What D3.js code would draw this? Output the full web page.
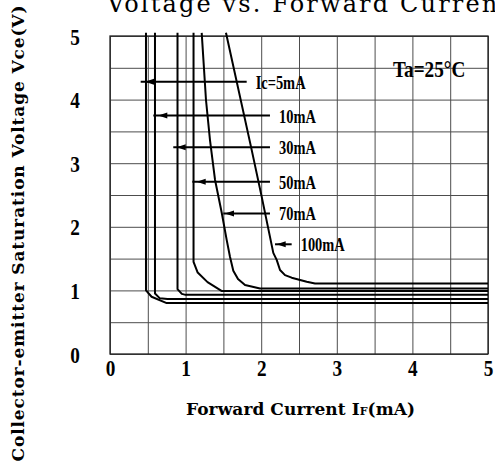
<!DOCTYPE html>
<html>
<head>
<meta charset="utf-8">
<script src="https://cdn.jsdelivr.net/npm/d3@7"></script>
<style>
  body { margin: 0; background: #fff; }
  svg { display: block; }
</style>
</head>
<body>
<svg id="chart" width="495" height="468"></svg>
<script>
// curve data: forward current If (mA) vs Vce (V)
const seriesNames = ['Ic=5mA', '10mA', '30mA', '50mA', '70mA', '100mA'];

const if5 = [0.476, 0.476, 0.55, 0.75, 5];
const vce5 = [5.05, 1.0, 0.90, 0.80, 0.80];

const if10 = [0.595, 0.595, 0.66, 0.76, 5];
const vce10 = [5.05, 0.95, 0.875, 0.865, 0.865];

const if30 = [0.893, 0.893, 0.95, 1.0, 5];
const vce30 = [5.05, 1.02, 0.945, 0.93, 0.93];

const if50 = [1.105, 1.105, 1.16, 1.29, 1.48, 5];
const vce50 = [5.05, 1.45, 1.28, 1.13, 0.99, 0.99];

const if70 = [1.213, 1.270, 1.323, 1.389, 1.478, 1.544, 1.587, 1.631, 1.693, 1.786, 1.984, 5];
const vce70 = [5.05, 3.99, 3.36, 2.74, 2.22, 1.79, 1.53, 1.31, 1.18, 1.085, 1.03, 1.03];

const if100 = [1.534, 1.874, 2.007, 2.16, 2.205, 2.249, 2.315, 2.403, 2.602, 2.712, 5];
const vce100 = [5.05, 3.21, 2.47, 1.59, 1.48, 1.32, 1.24, 1.20, 1.137, 1.11, 1.11];

// leader arrows (data units)
const arrowY = [4.28, 3.75, 3.25, 2.71, 2.21, 1.725];
const arrowTip = [0.463, 0.639, 0.882, 1.147, 1.521, 2.205];
const arrowTail = [0.406, 0.573, 0.837, 1.089, 1.499, 2.183];
const arrowEnd = [1.808, 2.116, 2.116, 2.116, 2.116, 2.403];

const xTicks = [0, 1, 2, 3, 4, 5];
const yTicks = [0, 1, 2, 3, 4, 5];
const gridVals = [0, 0.5, 1, 1.5, 2, 2.5, 3, 3.5, 4, 4.5, 5];

const svg = d3.select('#chart');

const plotLeft = 110, plotRight = 488, plotTop = 36, plotBottom = 354;
const x = d3.scaleLinear().domain([0, 5]).range([plotLeft, plotRight]);
const y = d3.scaleLinear().domain([0, 5]).range([plotBottom, plotTop]);

const serif = "'Liberation Serif', 'Times New Roman', serif";
const wideSerif = "'DejaVu Serif', 'Liberation Serif', serif";

// GRID
svg.append('g')
  .attr('transform', `translate(0,${plotBottom})`)
  .call(d3.axisBottom(x).tickValues(gridVals).tickSize(-(plotBottom - plotTop)).tickFormat(''))
  .call(g => g.select('.domain').remove())
  .selectAll('line').attr('stroke', '#4d4d4d').attr('stroke-width', 1);

svg.append('g')
  .attr('transform', `translate(${plotLeft},0)`)
  .call(d3.axisLeft(y).tickValues(gridVals).tickSize(-(plotRight - plotLeft)).tickFormat(''))
  .call(g => g.select('.domain').remove())
  .selectAll('line').attr('stroke', '#4d4d4d').attr('stroke-width', 1);

svg.append('rect')
  .attr('x', plotLeft).attr('y', plotTop)
  .attr('width', plotRight - plotLeft).attr('height', plotBottom - plotTop)
  .attr('fill', 'none').attr('stroke', '#222').attr('stroke-width', 1.3);

// TICK LABELS
const xAxis = svg.append('g')
  .attr('transform', `translate(0,${plotBottom})`)
  .call(d3.axisBottom(x).tickValues(xTicks).tickSize(0).tickFormat(d3.format('d')));
xAxis.select('.domain').remove();
xAxis.selectAll('text')
  .attr('y', 0).attr('dy', null)
  .attr('transform', 'translate(0,22) scale(0.8,1)')
  .style('font-family', serif).style('font-size', '24px').style('font-weight', 'bold')
  .attr('fill', '#000');

const yAxis = svg.append('g')
  .attr('transform', `translate(${plotLeft},0)`)
  .call(d3.axisLeft(y).tickValues(yTicks).tickSize(0).tickFormat(d3.format('d')));
yAxis.select('.domain').remove();
yAxis.selectAll('text')
  .attr('x', 0).attr('dy', null)
  .attr('text-anchor', 'middle')
  .attr('transform', 'translate(-35,8) scale(0.8,1)')
  .style('font-family', serif).style('font-size', '24px').style('font-weight', 'bold')
  .attr('fill', '#000');

// CURVES
const curves = [
  d3.zip(if5, vce5), d3.zip(if10, vce10), d3.zip(if30, vce30),
  d3.zip(if50, vce50), d3.zip(if70, vce70), d3.zip(if100, vce100)
];
const line = d3.line().x(d => x(d[0])).y(d => y(d[1]));

svg.selectAll('.curve')
  .data(curves)
  .enter()
  .append('path')
  .attr('class', 'curve')
  .attr('d', line)
  .attr('fill', 'none')
  .attr('stroke', '#000')
  .attr('stroke-width', 2)
  .attr('stroke-linejoin', 'round');

// LEADER ARROWS + LABELS
const notes = seriesNames.map((name, i) => ({
  name, y: arrowY[i], tip: arrowTip[i], tail: arrowTail[i], end: arrowEnd[i]
}));

const note = svg.selectAll('.note').data(notes).enter().append('g').attr('class', 'note');

note.append('line')
  .attr('x1', d => x(d.tail)).attr('x2', d => x(d.end))
  .attr('y1', d => y(d.y)).attr('y2', d => y(d.y))
  .attr('stroke', '#000').attr('stroke-width', 2);

note.append('path')
  .attr('d', d => {
    const tx = x(d.tip), ty = y(d.y);
    return `M${tx},${ty}L${tx + 9},${ty - 3}L${tx + 9},${ty + 3}Z`;
  })
  .attr('fill', '#000');

note.append('text')
  .attr('transform', d => `translate(${x(d.end) + 9},${y(d.y) + 7}) scale(0.74,1)`)
  .style('font-family', serif).style('font-size', '19.5px').style('font-weight', 'bold')
  .text(d => d.name);

svg.append('text')
  .attr('transform', 'translate(393,77) scale(0.8,1)')
  .style('font-family', serif).style('font-size', '24px').style('font-weight', 'bold')
  .text('Ta=25°C');

// TITLE + AXIS LABELS
svg.append('text')
  .attr('x', 107).attr('y', 12)
  .attr('textLength', 402).attr('lengthAdjust', 'spacing')
  .style('font-family', wideSerif).style('font-size', '24px')
  .text('Voltage vs. Forward Current');

svg.append('text')
  .attr('transform', 'translate(24,233.5) rotate(-90)')
  .attr('x', -228).attr('textLength', 456).attr('lengthAdjust', 'spacing')
  .style('font-family', wideSerif).style('font-size', '17px').style('font-weight', 'bold')
  .text('Collector-emitter Saturation Voltage Vce(V)');

const xl = svg.append('text')
  .attr('x', 186).attr('y', 415)
  .attr('textLength', 229).attr('lengthAdjust', 'spacing')
  .style('font-family', wideSerif).style('font-size', '17px').style('font-weight', 'bold');
xl.append('tspan').text('Forward Current I');
xl.append('tspan').style('font-size', '11px').text('F');
xl.append('tspan').text('(mA)');
</script>
</body>
</html>
